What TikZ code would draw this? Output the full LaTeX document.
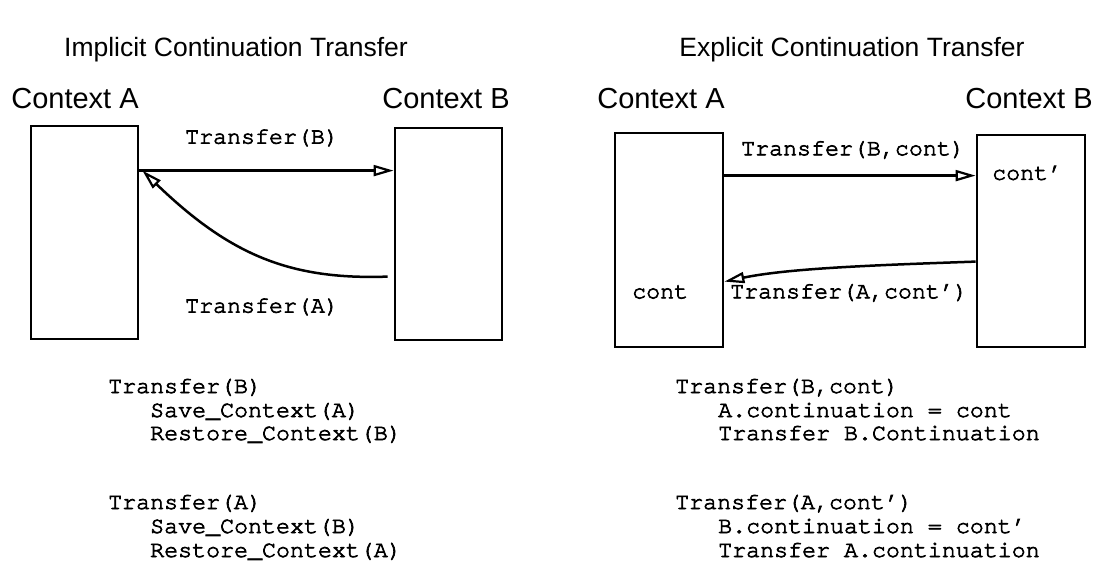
\documentclass[tikz,border=0pt]{standalone}
\usepackage{fontspec}
\setmainfont{Liberation Sans}
\newfontfamily\codefont{texgyrecursor-regular.otf}[FakeBold=3]
\usetikzlibrary{arrows.meta,calc}
\begin{document}
\begin{tikzpicture}[x=1pt,y=-1pt,
  ctxbox/.style={draw, line width=2.8pt, inner sep=0pt},
  paneltitle/.style={font=\fontsize{26.5}{30}\selectfont, inner sep=0pt},
  ctxlabel/.style={font=\fontsize{29}{32}\selectfont, inner sep=0pt},
  code/.style={font=\codefont\fontsize{23.3}{24}\selectfont, inner sep=0pt},
  codeline/.style={code, anchor=base west},
  xfer/.style={line width=2.5pt, -{Triangle[open, length=20pt, width=11pt, line width=2.2pt]}},
]
\useasboundingbox (0,0) rectangle (1098,567);

% ---------------- Left panel ----------------
\node[paneltitle] (ltitle) at (236,50) {Implicit Continuation Transfer};
\node[ctxlabel] (lAlab) at (75,99) {Context A};
\node[ctxlabel] (lBlab) at (446,99) {Context B};
\node[ctxbox, minimum width=107pt, minimum height=213pt] (lA) at (84.5,232.5) {};
\node[ctxbox, minimum width=107pt, minimum height=212pt] (lB) at (448.5,234) {};
\coordinate (lAin) at ([yshift=-46pt]lA.north east);
\coordinate (lBin) at ([yshift=-44pt]lB.north west);
\coordinate (lBout) at ([yshift=-150pt,xshift=-6pt]lB.north west);
\draw[xfer] (lAin) -- (lBin);
\draw[xfer] (lBout) .. controls (290,280) and (230,255) .. ([xshift=3pt]lAin);
\node[code] (lTB) at (262,138) {Transfer(B)};
\node[code] (lTA) at (262,307) {Transfer(A)};

\node[codeline] (lc1) at (108,393) {Transfer(B)};
\node[codeline] (lc2) at (150,417) {Save\_Context(A)};
\node[codeline] (lc3) at (150,440) {Restore\_Context(B)};
\node[codeline] (lc4) at (108,509) {Transfer(A)};
\node[codeline] (lc5) at (150,533) {Save\_Context(B)};
\node[codeline] (lc6) at (150,557) {Restore\_Context(A)};

% ---------------- Right panel ----------------
\node[paneltitle] (rtitle) at (852,50) {Explicit Continuation Transfer};
\node[ctxlabel] (rAlab) at (661,99) {Context A};
\node[ctxlabel] (rBlab) at (1029,99) {Context B};
\node[ctxbox, minimum width=108pt, minimum height=214pt] (rA) at (669,240) {};
\node[ctxbox, minimum width=108pt, minimum height=212pt] (rB) at (1031,241) {};
\node[code, anchor=west] (rcont) at (632,292) {cont};
\node[code, anchor=west] (rcontp) at (992,173) {cont’};
\coordinate (rAout) at ([yshift=-44pt]rA.north east);
\coordinate (rBin) at ([yshift=-42pt]rB.north west);
\coordinate (rBout) at ([yshift=-128pt]rB.north west);
\coordinate (rAin) at ([yshift=-150pt]rA.north east);
\draw[xfer] (rAout) -- (rBin);
\draw[xfer] (rBout) .. controls (880,265) and (790,268) .. (rAin);
\node[code] (rTB) at (853,150) {Transfer(B,cont)};
\node[code, anchor=west] (rTA) at (730,293) {Transfer(A,cont’)};

\node[codeline] (rc1) at (675,393) {Transfer(B,cont)};
\node[codeline] (rc2) at (718,417) {A.continuation = cont};
\node[codeline] (rc3) at (718,440) {Transfer B.Continuation};
\node[codeline] (rc4) at (675,509) {Transfer(A,cont’)};
\node[codeline] (rc5) at (718,533) {B.continuation = cont’};
\node[codeline] (rc6) at (718,557) {Transfer A.continuation};
\end{tikzpicture}
\end{document}
